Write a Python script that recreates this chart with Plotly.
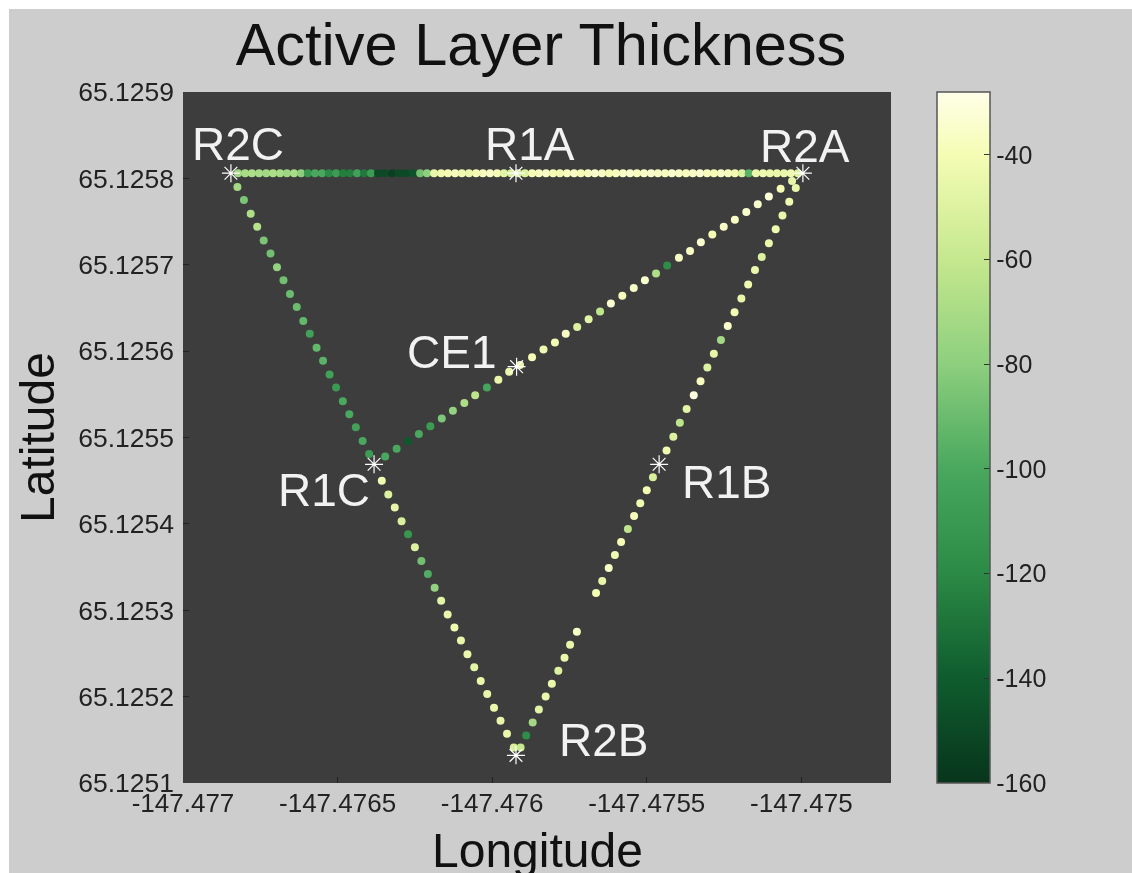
import plotly.graph_objects as go

# Transect R2C -> R2A (top)
top_lon = [-147.476822,-147.476799,-147.476777,-147.476754,-147.476731,-147.476709,-147.476686,-147.476664,-147.476641,-147.476618,
           -147.476596,-147.476573,-147.476550,-147.476528,-147.476505,-147.476482,-147.476460,-147.476437,-147.476414,-147.476392,
           -147.476369,-147.476347,-147.476324,-147.476301,-147.476279,-147.476256,-147.476233,-147.476211,-147.476188,-147.476165,
           -147.476143,-147.476120,-147.476098,-147.476075,-147.476052,-147.476030,-147.476007,-147.475984,-147.475962,-147.475939,
           -147.475916,-147.475894,-147.475871,-147.475849,-147.475826,-147.475803,-147.475781,-147.475758,-147.475735,-147.475713,
           -147.475690,-147.475668,-147.475645,-147.475622,-147.475600,-147.475577,-147.475554,-147.475532,-147.475509,-147.475486,
           -147.475464,-147.475441,-147.475419,-147.475396,-147.475373,-147.475351,-147.475328,-147.475305,-147.475283,-147.475260,
           -147.475237,-147.475215,-147.475192,-147.475170,-147.475147,-147.475124,-147.475102,-147.475079,-147.475056,-147.475034,
           -147.475011]
top_lat = [65.125806] * 81
top_alt = [-72,-70,-68,-70,-72,-68,-70,-74,-70,-80,
           -112,-100,-100,-120,-108,-125,-125,-105,-128,-108,
           -150,-150,-155,-150,-150,-145,-88,-80,-45,-42,
           -40,-38,-42,-44,-40,-38,-36,-40,-48,-52,
           -55,-50,-40,-38,-36,-40,-42,-38,-36,-40,
           -38,-34,-36,-40,-38,-36,-34,-38,-36,-34,
           -36,-38,-34,-36,-38,-36,-34,-38,-40,-36,
           -38,-42,-50,-95,-44,-42,-44,-46,-44,-42,
           -50]

# Transect R2C -> R1C
left_lon = [-147.476824,-147.476803,-147.476781,-147.476760,-147.476739,-147.476717,-147.476696,
            -147.476675,-147.476654,-147.476632,-147.476611,-147.476590,-147.476568,-147.476547,
            -147.476526,-147.476505,-147.476483,-147.476462,-147.476441,-147.476419,-147.476398]
left_lat = [65.125790,65.125775,65.125759,65.125744,65.125728,65.125713,65.125697,
            65.125682,65.125666,65.125651,65.125635,65.125620,65.125604,65.125589,
            65.125573,65.125558,65.125542,65.125527,65.125512,65.125496,65.125481]
left_alt = [-72,-85,-68,-65,-85,-88,-78,-88,-90,-90,-92,-105,-92,-95,-105,-110,-100,-100,-105,-100,-108]

# Transect R1C -> R2B
low_lon = [-147.476357,-147.476336,-147.476315,-147.476293,-147.476272,-147.476250,-147.476229,
           -147.476208,-147.476186,-147.476165,-147.476144,-147.476122,-147.476101,-147.476080,
           -147.476058,-147.476037,-147.476016,-147.475994,-147.475973,-147.475952,-147.475930]
low_lat = [65.125450,65.125434,65.125419,65.125403,65.125388,65.125373,65.125357,
           65.125342,65.125326,65.125311,65.125295,65.125280,65.125265,65.125249,
           65.125234,65.125218,65.125203,65.125187,65.125172,65.125157,65.125141]
low_alt = [-42,-50,-46,-52,-112,-50,-88,-98,-78,-48,-44,-42,-46,-44,-48,-44,-46,-44,-46,-44,-52]

# Transect R2B -> gap
rb_lon = [-147.475908,-147.475890,-147.475869,-147.475849,-147.475827,-147.475807,-147.475786,-147.475766,-147.475748,-147.475726]
rb_lat = [65.125141,65.125155,65.125170,65.125185,65.125200,65.125215,65.125230,65.125245,65.125260,65.125275]
rb_alt = [-60,-118,-72,-48,-44,-44,-50,-44,-46,-36]

# Transect gap -> R2A
right_lon = [-147.475664,-147.475644,-147.475623,-147.475603,-147.475583,-147.475561,-147.475541,-147.475521,-147.475500,-147.475480,
             -147.475436,-147.475414,-147.475393,-147.475371,-147.475348,-147.475326,-147.475304,-147.475283,-147.475260,-147.475238,
             -147.475216,-147.475194,-147.475172,-147.475150,-147.475128,-147.475105,-147.475083,-147.475061,-147.475039,-147.475018]
right_lat = [65.125320,65.125334,65.125349,65.125364,65.125379,65.125394,65.125409,65.125424,65.125439,65.125454,
             65.125485,65.125501,65.125517,65.125533,65.125549,65.125565,65.125581,65.125597,65.125613,65.125629,
             65.125645,65.125661,65.125677,65.125694,65.125709,65.125725,65.125741,65.125757,65.125773,65.125789]
right_alt = [-40,-46,-36,-42,-40,-62,-38,-42,-40,-52,
             -42,-50,-62,-48,-30,-38,-50,-46,-72,-34,
             -40,-46,-42,-44,-50,-44,-42,-44,-42,-46]

# Transect R2A -> CE1 -> R1C
mid_lon = [-147.475030,-147.475067,-147.475105,-147.475141,-147.475178,-147.475215,-147.475251,-147.475288,-147.475325,
           -147.475360,-147.475396,-147.475434,-147.475470,-147.475506,-147.475542,-147.475579,-147.475616,-147.475651,
           -147.475688,-147.475725,-147.475762,-147.475797,-147.475834,-147.475871,-147.475910,-147.475945,-147.475980,
           -147.476017,-147.476055,-147.476090,-147.476127,-147.476163,-147.476200,-147.476237,-147.476272,-147.476309,-147.476346]
mid_lat = [65.125797,65.125788,65.125779,65.125770,65.125761,65.125752,65.125744,65.125735,65.125726,
           65.125716,65.125708,65.125699,65.125690,65.125682,65.125673,65.125664,65.125655,65.125646,
           65.125637,65.125628,65.125620,65.125610,65.125602,65.125593,65.125584,65.125576,65.125567,
           65.125558,65.125549,65.125540,65.125531,65.125522,65.125513,65.125504,65.125496,65.125487,65.125478]
mid_alt = [-46,-40,-32,-34,-34,-36,-36,-40,-34,-36,-36,-118,-68,-34,-36,-38,-34,-62,-48,-50,-36,-40,-42,-40,-46,-44,-44,
           -102,-62,-68,-78,-84,-108,-100,-142,-100,-100]

# Stations
station_lon = [-147.476845,-147.475923,-147.474995,-147.475921,-147.476382,-147.475460,-147.475923]
station_lat = [65.125806,65.125806,65.125806,65.125582,65.125469,65.125469,65.125132]

# Station labels
label_text = ["R2C","R1A","R2A","CE1","R1C","R1B","R2B"]
label_lon = [-147.476822,-147.475878,-147.474989,-147.476130,-147.476544,-147.475241,-147.475639]
label_lat = [65.125840,65.125840,65.125838,65.125599,65.125439,65.125448,65.125150]

# Axis ticks
x_ticks = [-147.477,-147.4765,-147.476,-147.4755,-147.475]
x_labels = ["-147.477","-147.4765","-147.476","-147.4755","-147.475"]
y_ticks = [65.1251,65.1252,65.1253,65.1254,65.1255,65.1256,65.1257,65.1258,65.1259]
y_labels = ["65.1251","65.1252","65.1253","65.1254","65.1255","65.1256","65.1257","65.1258","65.1259"]
cb_ticks = [-40,-60,-80,-100,-120,-140,-160]
cb_labels = ["-40","-60","-80","-100","-120","-140","-160"]

colorscale = [[0.0,"#08351c"],[0.1515,"#0f5c2e"],[0.303,"#2b8a45"],[0.4545,"#49a85e"],
              [0.606,"#8dcf7e"],[0.7576,"#c5e88e"],[0.909,"#f5fcb4"],[1.0,"#ffffe8"]]

FONT = "Liberation Sans, Arial, sans-serif"
all_lon = top_lon + left_lon + low_lon + rb_lon + right_lon + mid_lon
all_lat = top_lat + left_lat + low_lat + rb_lat + right_lat + mid_lat
all_alt = top_alt + left_alt + low_alt + rb_alt + right_alt + mid_alt

fig = go.Figure()
fig.add_trace(go.Scatter(
    x=all_lon, y=all_lat, mode="markers", showlegend=False,
    marker=dict(size=8, color=all_alt, colorscale=colorscale, cmin=-160, cmax=-28, line=dict(width=0),
                colorbar=dict(
                    xref="container", x=928/1123, xanchor="left",
                    yref="paper", y=0, yanchor="bottom", lenmode="fraction", len=1,
                    thicknessmode="pixels", thickness=53, xpad=0, ypad=0,
                    outlinecolor="#555555", outlinewidth=1.5,
                    tickmode="array", tickvals=cb_ticks, ticktext=cb_labels,
                    ticks="inside", ticklen=6, tickcolor="#333333",
                    tickfont=dict(family=FONT, size=25, color="#222222")))))
fig.add_trace(go.Scatter(
    x=station_lon, y=station_lat, mode="markers", showlegend=False,
    marker=dict(symbol="asterisk-open", size=15, color="white", line=dict(width=1.2, color="white"))))

for t, lo, la in zip(label_text, label_lon, label_lat):
    fig.add_annotation(x=lo, y=la, text=t, showarrow=False,
                       font=dict(family=FONT, size=46, color="#f2f2f2"),
                       xanchor="center", yanchor="middle")

# Longitude title sits lower than an axis title may go inside the margin
fig.add_annotation(xref="paper", yref="paper", x=0.5, y=-68/691, text="Longitude", showarrow=False,
                   font=dict(family=FONT, size=48, color="#111111"),
                   xanchor="center", yanchor="middle")

fig.update_layout(
    width=1123, height=864, autosize=False,
    margin=dict(l=174, r=241, t=83, b=90, pad=0, autoexpand=False),
    paper_bgcolor="#cdcdcd", plot_bgcolor="#3d3d3d",
    font=dict(family=FONT, color="#222222"),
    title=dict(text="Active Layer Thickness", x=532/1123, xanchor="center",
               y=1-35/864, yanchor="middle", yref="container",
               font=dict(family=FONT, size=59.5, color="#111111")),
    xaxis=dict(range=[-147.477,-147.47471], tickmode="array", tickvals=x_ticks, ticktext=x_labels,
               ticks="inside", ticklen=6, tickcolor="#222222", showgrid=False, zeroline=False,
               showline=False, ticklabelstandoff=2,
               tickfont=dict(family=FONT, size=26, color="#222222")),
    yaxis=dict(range=[65.1251,65.1259], tickmode="array", tickvals=y_ticks, ticktext=y_labels,
               ticks="inside", ticklen=6, tickcolor="#222222", showgrid=False, zeroline=False,
               showline=False, ticklabelstandoff=8,
               tickfont=dict(family=FONT, size=26.5, color="#222222"),
               title=dict(text="Latitude", standoff=8, font=dict(family=FONT, size=48, color="#111111"))),
)

fig.write_html("out.html", post_script="document.body.style.margin='9px 0 0 9px';document.body.style.overflow='hidden';document.body.style.background='white';document.querySelector('.plotly-graph-div').style.filter='blur(0.6px)';")
